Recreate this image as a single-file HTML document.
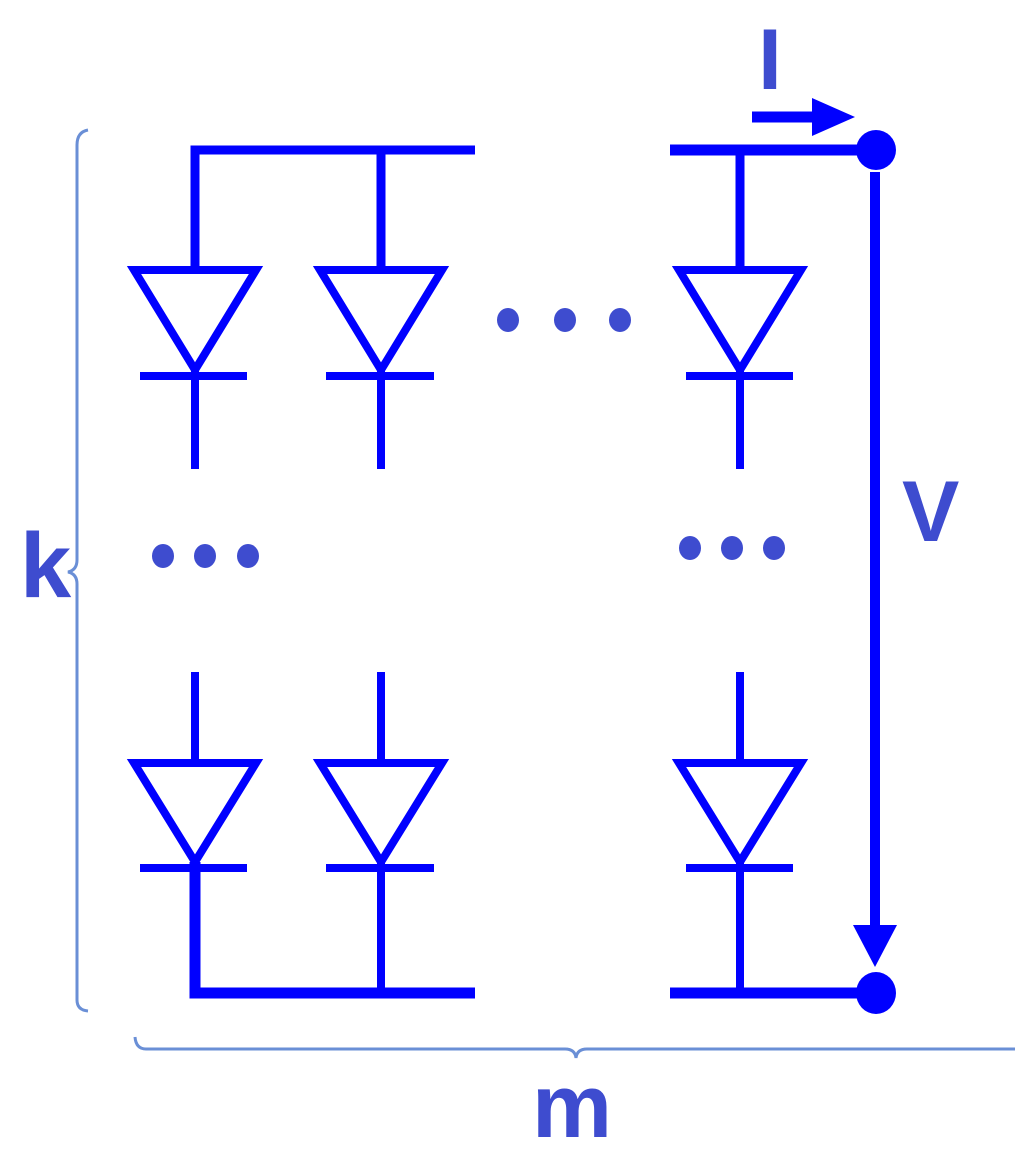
<!DOCTYPE html>
<html><head><style>html,body{margin:0;padding:0;background:#fff;}svg{display:block}</style></head>
<body>
<svg width="1028" height="1157" viewBox="0 0 1028 1157" xmlns="http://www.w3.org/2000/svg">
<g stroke="#0000ff" fill="none" stroke-linecap="butt">
  <polyline points="195,268 195,150 475,150" stroke-width="9"/>
  <line x1="381" y1="150" x2="381" y2="268" stroke-width="9"/>
  <line x1="670" y1="150" x2="876" y2="150" stroke-width="11"/>
  <line x1="740" y1="150" x2="740" y2="268" stroke-width="9"/>
  <g stroke-width="8">
    <polygon points="134,270 256,270 195,370"/>
    <polygon points="320,270 442,270 381,370"/>
    <polygon points="679,270 801,270 740,370"/>
  </g>
  <g stroke-width="8">
    <line x1="140" y1="376" x2="247" y2="376"/>
    <line x1="326" y1="376" x2="434" y2="376"/>
    <line x1="686" y1="376" x2="793" y2="376"/>
    <line x1="195" y1="370" x2="195" y2="469"/>
    <line x1="381" y1="370" x2="381" y2="469"/>
    <line x1="740" y1="370" x2="740" y2="469"/>
  </g>
  <g stroke-width="8">
    <line x1="195" y1="672" x2="195" y2="762"/>
    <line x1="381" y1="672" x2="381" y2="762"/>
    <line x1="740" y1="672" x2="740" y2="762"/>
    <polygon points="134,763 256,763 195,862"/>
    <polygon points="320,763 442,763 381,862"/>
    <polygon points="679,763 801,763 740,862"/>
    <line x1="140" y1="868" x2="247" y2="868"/>
    <line x1="326" y1="868" x2="434" y2="868"/>
    <line x1="686" y1="868" x2="793" y2="868"/>
    <line x1="740" y1="862" x2="740" y2="993"/>
    <line x1="381" y1="862" x2="381" y2="993"/>
  </g>
  <polyline points="195,862 195,993 475,993" stroke-width="11"/>
  <line x1="670" y1="993" x2="876" y2="993" stroke-width="11"/>
  <line x1="875" y1="172" x2="875" y2="930" stroke-width="10"/>
  <line x1="752" y1="117" x2="815" y2="117" stroke-width="11"/>
</g>
<g fill="#0000ff">
  <circle cx="876" cy="150" r="20"/>
  <ellipse cx="876" cy="993" rx="20" ry="21"/>
  <polygon points="812,98 855,117 812,136"/>
  <polygon points="853,925 897,925 875,967"/>
</g>
<g stroke="#6a8fd6" stroke-width="3" fill="none">
  <path d="M88,130 Q77,132 77,145 L77,560 Q77,570 68,572 Q77,574 77,584 L77,1000 Q77,1010 88,1011"/>
  <path d="M135,1037 Q136,1049 146,1049 L565,1049 Q575,1049 576,1058 Q577,1049 587,1049 L1015,1049"/>
</g>
<g fill="#3e4ccf">
  <ellipse cx="508" cy="320" rx="11" ry="12"/>
  <ellipse cx="565" cy="320" rx="11" ry="12"/>
  <ellipse cx="620" cy="320" rx="11" ry="12"/>
  <ellipse cx="163" cy="556" rx="11" ry="12"/>
  <ellipse cx="205" cy="556" rx="11" ry="12"/>
  <ellipse cx="248" cy="556" rx="11" ry="12"/>
  <ellipse cx="690" cy="548" rx="11" ry="12"/>
  <ellipse cx="732" cy="548" rx="11" ry="12"/>
  <ellipse cx="774" cy="548" rx="11" ry="12"/>
</g>
<g fill="#3e4ccf" font-family="Liberation Sans, sans-serif" font-weight="bold">
  <text x="758" y="89" font-size="86">I</text>
  <text x="20" y="597" font-size="92">k</text>
  <text x="902" y="541" font-size="86">V</text>
  <text x="532" y="1137" font-size="90">m</text>
</g>
</svg>
</body></html>
